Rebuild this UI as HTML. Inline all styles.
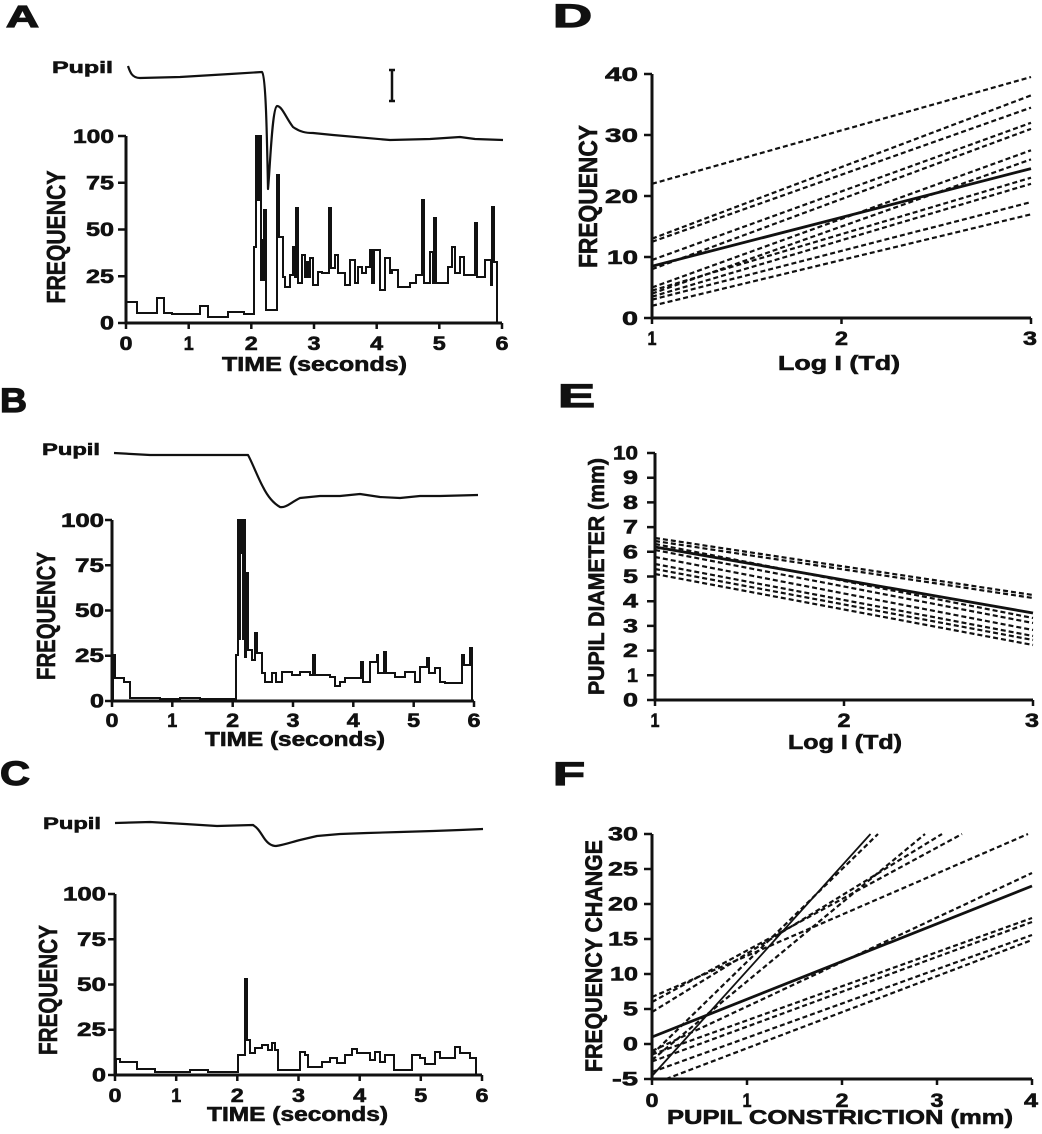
<!DOCTYPE html>
<html>
<head>
<meta charset="utf-8">
<style>
  html,body{margin:0;padding:0;background:#fff;}
  svg{display:block;}
  text{font-family:"Liberation Sans",Arial,sans-serif;font-weight:bold;fill:#111;stroke:#111;stroke-width:0.6;}
  .big{stroke-width:1.2;}
  .ax{stroke:#111;stroke-width:3;fill:none;}
  .tk{stroke:#111;stroke-width:2.5;fill:none;}
  .h{stroke:#111;stroke-width:2;fill:none;stroke-linejoin:miter;}
  .p{stroke:#111;stroke-width:2.2;fill:none;stroke-linejoin:round;}
  .d{stroke:#111;stroke-width:2.2;fill:none;stroke-dasharray:5 3;}
  .s{stroke:#111;stroke-width:2.8;fill:none;}
</style>
</head>
<body>
<svg width="1042" height="1134" viewBox="0 0 1042 1134" xmlns="http://www.w3.org/2000/svg">
<rect width="1042" height="1134" fill="#fff"/>

<!-- ================= PANEL A ================= -->
<text class="big" x="6" y="27" font-size="31" textLength="33" lengthAdjust="spacingAndGlyphs">A</text>
<text x="52" y="73" font-size="17" textLength="61" lengthAdjust="spacingAndGlyphs">Pupil</text>
<path class="p" d="M128,66 C130,72 132,78 140,78 L180,77 L230,74 L262,72 C266,76 267,140 268,189 C270,170 272,108 277,106 C282,106 286,118 293,127 C300,132 306,133 313,133 L333,135 L390,140 L430,139 L460,137 L475,139 L503,140"/>
<path class="tk" d="M392,70 V101 M389,70 H395 M389,101 H395"/>
<path class="ax" d="M126,136 V323 H502"/>
<path class="tk" d="M118,136 H126 M118,182.75 H126 M118,229.5 H126 M118,276.25 H126 M118,323 H126
  M126,323 V329 M188.7,323 V329 M251.3,323 V329 M314,323 V329 M376.7,323 V329 M439.3,323 V329 M502,323 V329"/>
<g font-size="19" text-anchor="end">
<text x="114" y="143" textLength="41" lengthAdjust="spacingAndGlyphs">100</text>
<text x="114" y="189.5" textLength="28" lengthAdjust="spacingAndGlyphs">75</text>
<text x="114" y="236" textLength="28" lengthAdjust="spacingAndGlyphs">50</text>
<text x="114" y="283" textLength="28" lengthAdjust="spacingAndGlyphs">25</text>
<text x="114" y="329.5" textLength="14" lengthAdjust="spacingAndGlyphs">0</text>
</g>
<g font-size="19" text-anchor="middle">
<text x="126" y="350" textLength="13" lengthAdjust="spacingAndGlyphs">0</text><text x="188.7" y="350" textLength="10" lengthAdjust="spacingAndGlyphs">1</text><text x="251.3" y="350" textLength="13" lengthAdjust="spacingAndGlyphs">2</text><text x="314" y="350" textLength="13" lengthAdjust="spacingAndGlyphs">3</text><text x="376.7" y="350" textLength="13" lengthAdjust="spacingAndGlyphs">4</text><text x="439.3" y="350" textLength="13" lengthAdjust="spacingAndGlyphs">5</text><text x="502" y="350" textLength="13" lengthAdjust="spacingAndGlyphs">6</text>
</g>
<text x="222" y="371" font-size="20" textLength="185" lengthAdjust="spacingAndGlyphs">TIME (seconds)</text>
<text transform="translate(65,237) rotate(-90)" font-size="26" text-anchor="middle" textLength="133" lengthAdjust="spacingAndGlyphs">FREQUENCY</text>
<path class="h" d="M126,323 V302 H137 V313 H157 V298 H164 V313 H172 V314 H200 V306 H208 V317 H228 V312 H244 V314 H254 V247 H256 V136 H258 V200 H259 V136 H261 V280 H262 V240 H263 V280 H264 V210 H266 V310 H277 V175 H279 V237 H283 V277 H285 V287 H290 V275 H293 V247 H295 V277 H296 V208 H298 V283 H302 V255 H305 V277 H307 V262 H308 V277 H310 V258 H313 V285 H318 V272 H322 V273 H329 V208 H331 V268 H335 V255 H338 V273 H345 V285 H350 V260 H355 V283 H358 V267 H362 V273 H366 V267 H370 V250 H372 V283 H374 V250 H380 V290 H385 V258 H390 V273 H392 V270 H398 V287 H410 V283 H416 V275 H422 V200 H424 V283 H430 V252 H433 V283 H434 V218 H436 V283 H448 V267 H452 V247 H455 V273 H460 V257 H464 V275 H475 V223 H477 V277 H485 V260 H491 V285 H492 V207 H494 V262 H497 V323"/>
<path d="M256,136 H261 V200 H256 Z" fill="#111"/>

<!-- ================= PANEL B ================= -->
<text class="big" x="0" y="412" font-size="34" textLength="27" lengthAdjust="spacingAndGlyphs">B</text>
<text x="42" y="455" font-size="17" textLength="58" lengthAdjust="spacingAndGlyphs">Pupil</text>
<path class="p" d="M114,453 L150,455 L200,455 L248,455 C252,462 258,478 263,487 C268,497 273,503 280,507 C286,508 290,503 300,498 L320,496 L340,496 L360,494 L380,497 L400,498 L420,496 L440,496 L478,495"/>
<path class="ax" d="M112,520 V701 H474"/>
<path class="tk" d="M105,520 H112 M105,565.25 H112 M105,610.5 H112 M105,655.75 H112 M105,701 H112
  M112,701 V707 M172.3,701 V707 M232.7,701 V707 M293,701 V707 M353.3,701 V707 M413.7,701 V707 M474,701 V707"/>
<g font-size="19" text-anchor="end">
<text x="104" y="527" textLength="43" lengthAdjust="spacingAndGlyphs">100</text>
<text x="104" y="572" textLength="29" lengthAdjust="spacingAndGlyphs">75</text>
<text x="104" y="617" textLength="29" lengthAdjust="spacingAndGlyphs">50</text>
<text x="104" y="662" textLength="29" lengthAdjust="spacingAndGlyphs">25</text>
<text x="104" y="707.5" textLength="14" lengthAdjust="spacingAndGlyphs">0</text>
</g>
<g font-size="19" text-anchor="middle">
<text x="112" y="727" textLength="13" lengthAdjust="spacingAndGlyphs">0</text><text x="172.3" y="727" textLength="10" lengthAdjust="spacingAndGlyphs">1</text><text x="232.7" y="727" textLength="13" lengthAdjust="spacingAndGlyphs">2</text><text x="293" y="727" textLength="13" lengthAdjust="spacingAndGlyphs">3</text><text x="353.3" y="727" textLength="13" lengthAdjust="spacingAndGlyphs">4</text><text x="413.7" y="727" textLength="13" lengthAdjust="spacingAndGlyphs">5</text><text x="474" y="727" textLength="13" lengthAdjust="spacingAndGlyphs">6</text>
</g>
<text x="205" y="746" font-size="20" textLength="180" lengthAdjust="spacingAndGlyphs">TIME (seconds)</text>
<text transform="translate(55,616) rotate(-90)" font-size="26" text-anchor="middle" textLength="128" lengthAdjust="spacingAndGlyphs">FREQUENCY</text>
<path class="h" d="M113,701 V655 H115 V678 H124 V682 H130 V698 H160 V699 H180 V698 H200 V699 H236 V655 H238 V520 H241 V553 H242 V520 H245 V657 H246 V573 H248 V650 H252 V660 H255 V633 H257 V653 H262 V673 H265 V682 H272 V673 H276 V682 H282 V672 H292 V675 H300 V672 H310 V675 H313 V655 H315 V675 H330 V677 H335 V686 H340 V682 H345 V678 H361 V662 H363 V682 H370 V662 H377 V655 H378 V673 H384 V652 H386 V673 H395 V677 H405 V672 H415 V682 H420 V667 H427 V658 H429 V673 H435 V668 H440 V682 H445 V683 H462 V655 H464 V665 H470 V648 H472 V701"/>
<path d="M238,520 H241 V640 H238 Z M242,520 H245 V640 H242 Z" fill="#111"/>

<!-- ================= PANEL C ================= -->
<text class="big" x="0" y="785" font-size="34" textLength="30" lengthAdjust="spacingAndGlyphs">C</text>
<text x="43" y="829" font-size="17" textLength="58" lengthAdjust="spacingAndGlyphs">Pupil</text>
<path class="p" d="M115,823 L150,822 L185,824 L217,826 L253,825 C258,828 260,832 264,838 C268,844 272,846 276,846 C284,845 292,842 300,840 L317,836 L340,834 L367,833 L400,832 L433,831 L460,830 L483,829"/>
<path class="ax" d="M115,894 V1075 H482"/>
<path class="tk" d="M108,894 H115 M108,939.25 H115 M108,984.5 H115 M108,1029.75 H115 M108,1075 H115
  M115,1075 V1081 M176.2,1075 V1081 M237.3,1075 V1081 M298.5,1075 V1081 M359.7,1075 V1081 M420.8,1075 V1081 M482,1075 V1081"/>
<g font-size="19" text-anchor="end">
<text x="106" y="900.5" textLength="43" lengthAdjust="spacingAndGlyphs">100</text>
<text x="106" y="946" textLength="29" lengthAdjust="spacingAndGlyphs">75</text>
<text x="106" y="991" textLength="29" lengthAdjust="spacingAndGlyphs">50</text>
<text x="106" y="1036" textLength="29" lengthAdjust="spacingAndGlyphs">25</text>
<text x="106" y="1081.5" textLength="14" lengthAdjust="spacingAndGlyphs">0</text>
</g>
<g font-size="19" text-anchor="middle">
<text x="115" y="1102" textLength="13" lengthAdjust="spacingAndGlyphs">0</text><text x="176.2" y="1102" textLength="10" lengthAdjust="spacingAndGlyphs">1</text><text x="237.3" y="1102" textLength="13" lengthAdjust="spacingAndGlyphs">2</text><text x="298.5" y="1102" textLength="13" lengthAdjust="spacingAndGlyphs">3</text><text x="359.7" y="1102" textLength="13" lengthAdjust="spacingAndGlyphs">4</text><text x="420.8" y="1102" textLength="13" lengthAdjust="spacingAndGlyphs">5</text><text x="482" y="1102" textLength="13" lengthAdjust="spacingAndGlyphs">6</text>
</g>
<text x="207" y="1121" font-size="20" textLength="181" lengthAdjust="spacingAndGlyphs">TIME (seconds)</text>
<text transform="translate(57,990) rotate(-90)" font-size="26" text-anchor="middle" textLength="130" lengthAdjust="spacingAndGlyphs">FREQUENCY</text>
<path class="h" d="M116,1075 V1059 H120 V1062 H137 V1069 H155 V1072 H190 V1070 H208 V1072 H238 V1055 H245 V979 H247 V1040 H250 V1053 H255 V1048 H262 V1045 H268 V1050 H272 V1043 H275 V1050 H278 V1070 H300 V1052 H305 V1055 H308 V1067 H322 V1062 H330 V1058 H337 V1063 H345 V1055 H352 V1049 H357 V1053 H370 V1060 H375 V1052 H380 V1062 H385 V1055 H394 V1070 H412 V1055 H420 V1058 H425 V1064 H435 V1052 H440 V1058 H455 V1047 H460 V1053 H470 V1058 H476 V1075"/>
<path d="M244.5,979 H247 V1040 H244.5 Z" fill="#111"/>

<!-- ================= PANEL D ================= -->
<text class="big" x="553" y="27" font-size="32" textLength="39" lengthAdjust="spacingAndGlyphs">D</text>
<path class="ax" d="M652,74 V318 H1031"/>
<path class="tk" d="M644,74 H652 M644,135 H652 M644,196 H652 M644,257 H652 M644,318 H652
  M652,318 V324 M841.5,318 V324 M1031,318 V324"/>
<g font-size="19" text-anchor="end">
<text x="638" y="81" textLength="33" lengthAdjust="spacingAndGlyphs">40</text>
<text x="638" y="142" textLength="33" lengthAdjust="spacingAndGlyphs">30</text>
<text x="638" y="203" textLength="33" lengthAdjust="spacingAndGlyphs">20</text>
<text x="638" y="264" textLength="31" lengthAdjust="spacingAndGlyphs">10</text>
<text x="638" y="325" textLength="16" lengthAdjust="spacingAndGlyphs">0</text>
</g>
<g font-size="19" text-anchor="middle">
<text x="652" y="345" textLength="9" lengthAdjust="spacingAndGlyphs">1</text><text x="841.5" y="345" textLength="13" lengthAdjust="spacingAndGlyphs">2</text><text x="1030" y="345" textLength="14" lengthAdjust="spacingAndGlyphs">3</text>
</g>
<text x="778" y="370" font-size="20" textLength="122" lengthAdjust="spacingAndGlyphs">Log I (Td)</text>
<text transform="translate(597,196.5) rotate(-90)" font-size="26" text-anchor="middle" textLength="143" lengthAdjust="spacingAndGlyphs">FREQUENCY</text>
<g>
<path class="d" d="M652,183.8 L1031,77"/>
<path class="d" d="M652,238.7 L1031,95.4"/>
<path class="d" d="M652,241.8 L1031,107.6"/>
<path class="d" d="M652,260 L1031,122.8"/>
<path class="d" d="M652,269.2 L1031,128.9"/>
<path class="d" d="M652,287.5 L1031,150.3"/>
<path class="d" d="M652,293.6 L1031,159.4"/>
<path class="d" d="M652,290.6 L1031,177.7"/>
<path class="d" d="M652,296.7 L1031,183.8"/>
<path class="d" d="M652,299.7 L1031,202.1"/>
<path class="d" d="M652,305.8 L1031,214.3"/>
<path class="s" d="M652,266.2 L1031,168.6"/>
</g>

<!-- ================= PANEL E ================= -->
<text class="big" x="558" y="407" font-size="32" textLength="37" lengthAdjust="spacingAndGlyphs">E</text>
<path class="ax" d="M655,453 V700 H1033"/>
<path class="tk" d="M647,453 H655 M647,477.7 H655 M647,502.4 H655 M647,527.1 H655 M647,551.8 H655 M647,576.5 H655 M647,601.2 H655 M647,625.9 H655 M647,650.6 H655 M647,675.3 H655 M647,700 H655
  M655,700 V706 M844,700 V706 M1033,700 V706"/>
<g font-size="19" text-anchor="end">
<text x="638" y="459.5" textLength="25" lengthAdjust="spacingAndGlyphs">10</text>
<text x="638" y="484.2" textLength="15" lengthAdjust="spacingAndGlyphs">9</text>
<text x="638" y="508.9" textLength="15" lengthAdjust="spacingAndGlyphs">8</text>
<text x="638" y="533.6" textLength="15" lengthAdjust="spacingAndGlyphs">7</text>
<text x="638" y="558.3" textLength="15" lengthAdjust="spacingAndGlyphs">6</text>
<text x="638" y="583" textLength="15" lengthAdjust="spacingAndGlyphs">5</text>
<text x="638" y="607.7" textLength="15" lengthAdjust="spacingAndGlyphs">4</text>
<text x="638" y="632.4" textLength="15" lengthAdjust="spacingAndGlyphs">3</text>
<text x="638" y="657.1" textLength="15" lengthAdjust="spacingAndGlyphs">2</text>
<text x="638" y="681.8" textLength="11" lengthAdjust="spacingAndGlyphs">1</text>
<text x="638" y="706.5" textLength="15" lengthAdjust="spacingAndGlyphs">0</text>
</g>
<g font-size="19" text-anchor="middle">
<text x="655" y="727" textLength="9" lengthAdjust="spacingAndGlyphs">1</text><text x="844" y="727" textLength="13" lengthAdjust="spacingAndGlyphs">2</text><text x="1032" y="727" textLength="14" lengthAdjust="spacingAndGlyphs">3</text>
</g>
<text x="788" y="749" font-size="20" textLength="114" lengthAdjust="spacingAndGlyphs">Log I (Td)</text>
<text transform="translate(604,576.5) rotate(-90)" font-size="22" text-anchor="middle" textLength="237" lengthAdjust="spacingAndGlyphs">PUPIL DIAMETER (mm)</text>
<g>
<path class="d" d="M655,538 L1033,595"/>
<path class="d" d="M655,541 L1033,598"/>
<path class="d" d="M655,544 L1033,618"/>
<path class="d" d="M655,550 L1033,623"/>
<path class="d" d="M655,557 L1033,630"/>
<path class="d" d="M655,564 L1033,636"/>
<path class="d" d="M655,569 L1033,640"/>
<path class="d" d="M655,574 L1033,645"/>
<path class="s" d="M655,547 L1033,613"/>
</g>

<!-- ================= PANEL F ================= -->
<text class="big" x="553" y="785" font-size="32" textLength="32" lengthAdjust="spacingAndGlyphs">F</text>
<path class="ax" d="M652,834 V1079 H1032"/>
<path class="tk" d="M644,834 H652 M644,869 H652 M644,904 H652 M644,939 H652 M644,974 H652 M644,1009 H652 M644,1044 H652 M644,1079 H652
  M652,1079 V1085 M747,1079 V1085 M842,1079 V1085 M937,1079 V1085 M1032,1079 V1085"/>
<g font-size="19" text-anchor="end">
<text x="638" y="840.5" textLength="30" lengthAdjust="spacingAndGlyphs">30</text>
<text x="638" y="875.5" textLength="30" lengthAdjust="spacingAndGlyphs">25</text>
<text x="638" y="910.5" textLength="30" lengthAdjust="spacingAndGlyphs">20</text>
<text x="638" y="945.5" textLength="30" lengthAdjust="spacingAndGlyphs">15</text>
<text x="638" y="980.5" textLength="28" lengthAdjust="spacingAndGlyphs">10</text>
<text x="638" y="1015.5" textLength="15" lengthAdjust="spacingAndGlyphs">5</text>
<text x="638" y="1050.5" textLength="15" lengthAdjust="spacingAndGlyphs">0</text>
<text x="638" y="1085.5" textLength="26" lengthAdjust="spacingAndGlyphs">-5</text>
</g>
<g font-size="19" text-anchor="middle">
<text x="652" y="1107" textLength="13" lengthAdjust="spacingAndGlyphs">0</text><text x="747" y="1107" textLength="9" lengthAdjust="spacingAndGlyphs">1</text><text x="842" y="1107" textLength="13" lengthAdjust="spacingAndGlyphs">2</text><text x="937" y="1107" textLength="13" lengthAdjust="spacingAndGlyphs">3</text><text x="1031" y="1107" textLength="14" lengthAdjust="spacingAndGlyphs">4</text>
</g>
<text x="667" y="1124" font-size="20" textLength="346" lengthAdjust="spacingAndGlyphs">PUPIL CONSTRICTION (mm)</text>
<text transform="translate(602,956) rotate(-90)" font-size="24" text-anchor="middle" textLength="232" lengthAdjust="spacingAndGlyphs">FREQUENCY CHANGE</text>
<g>
<path class="p" style="stroke-width:1.8" d="M652,1076 L870.5,834"/>
<path class="d" d="M652,1054.5 L878,834"/>
<path class="d" d="M652,997 L1028,834"/>
<path class="d" d="M652,1002 L962,834"/>
<path class="d" d="M652,1012 L942,834"/>
<path class="d" d="M652,1060 L925,834"/>
<path class="d" d="M652,1051 L1032,873"/>
<path class="d" d="M652,1054.5 L1032,918"/>
<path class="d" d="M652,1061.5 L1032,922"/>
<path class="d" d="M652,1072 L1032,935"/>
<path class="d" d="M666,1079 L1032,940"/>
<path class="s" d="M652,1037 L1032,886"/>
</g>
</svg>
</body>
</html>
